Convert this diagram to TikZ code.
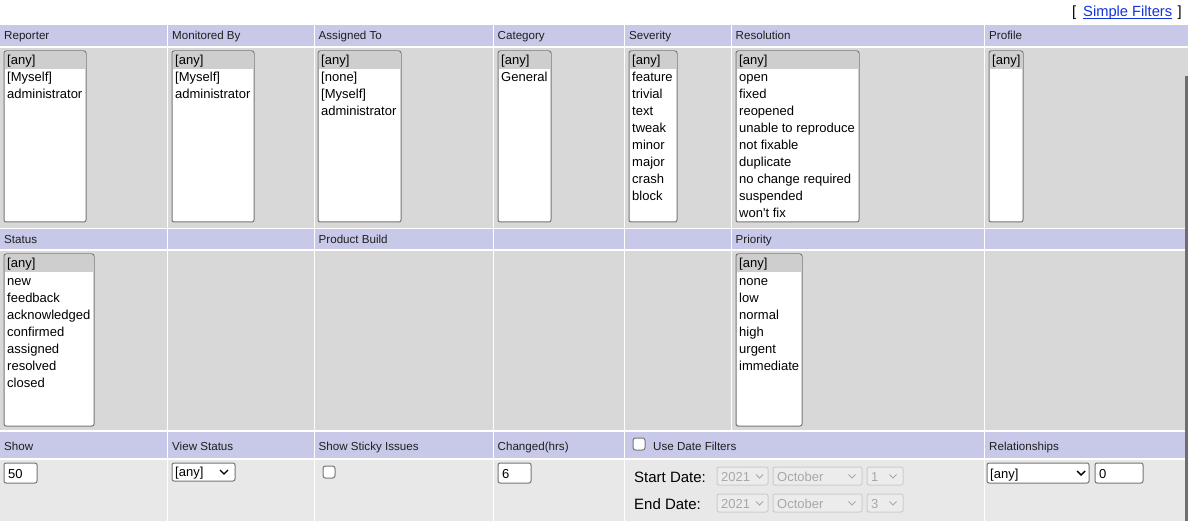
\documentclass[tikz,border=0pt]{standalone}
\usepackage{fontspec}
\setmainfont{Liberation Sans}
\definecolor{hdr}{RGB}{200,200,232}
\definecolor{bodyc}{RGB}{216,216,216}
\definecolor{bodyl}{RGB}{232,232,232}
\definecolor{bordc}{RGB}{118,118,118}
\definecolor{selc}{RGB}{206,206,206}
\definecolor{dis}{RGB}{168,168,168}
\definecolor{disb}{RGB}{205,205,205}
\definecolor{disf}{RGB}{236,236,236}
\definecolor{linkc}{RGB}{20,50,220}
\definecolor{sbar}{RGB}{110,110,110}
\tikzset{
  hdtxt/.style={anchor=base west,inner sep=0pt,font=\fontsize{11.6}{13}\selectfont,text=black!88},
  itm/.style={anchor=base west,inner sep=0pt,font=\fontsize{13}{15}\selectfont},
  ditm/.style={itm,text=dis},
  bigtxt/.style={anchor=base west,inner sep=0pt,font=\fontsize{15}{17}\selectfont},
  lnktxt/.style={anchor=base west,inner sep=0pt,font=\fontsize{14.7}{17}\selectfont},
  lbx/.style={draw=bordc,fill=white,line width=1pt,rounded corners=2pt},
  dsbx/.style={draw=disb,fill=disf,line width=1pt,rounded corners=2pt},
  chev/.style={draw=black,line width=1.4pt},
  dchev/.style={draw=dis,line width=0.9pt},
  chk/.style={draw=bordc,fill=white,line width=1pt,rounded corners=2.5pt}
}
% #1 name, #2 x1, #3 y1, #4 x2, #5 y2, #6 items
\newcommand\lstbox[6]{%
  \draw[lbx] (#2,#3) rectangle (#4,#5);
  \fill[selc] ({#2+1},{#3+1}) rectangle ({#4-1},{#3+18});
  \foreach \t [count=\i] in {#6}{\node[itm] (#1-\i) at ({#2+3},{#3+14+17*\i-17}) {\t};}
}
% #1 name, #2 x1, #3 y1, #4 x2, #5 y2, #6 text, #7 chevron centre x
\newcommand\selbox[7]{%
  \draw[lbx] (#2,#3) rectangle (#4,#5);
  \node[itm] (#1) at ({#2+3},{#5-4.5}) {#6};
  \draw[chev] ({#7-4},{(#3+#5)/2-2}) -- ({#7},{(#3+#5)/2+2}) -- ({#7+4},{(#3+#5)/2-2});
}
\newcommand\disbox[7]{%
  \draw[dsbx] (#2,#3) rectangle (#4,#5);
  \node[ditm] (#1) at ({#2+4},{#5-4}) {#6};
  \draw[dchev] ({#7-3.5},{(#3+#5)/2-1.5}) -- ({#7},{(#3+#5)/2+2}) -- ({#7+3.5},{(#3+#5)/2-1.5});
}
\newcommand\inbox[6]{%
  \draw[lbx] (#2,#3) rectangle (#4,#5);
  \node[itm] (#1) at ({#2+4},{#5-5}) {#6};
}
\begin{document}
\begin{tikzpicture}[x=1pt,y=-1pt]
\useasboundingbox (0,0) rectangle (1188,521);
\fill[white] (0,0) rectangle (1188,521);

% top link
\node[lnktxt] (lb) at (1072,17) {[};
\node[lnktxt,text=linkc] (lnk) at (1083,17) {Simple Filters};
\node[lnktxt] (rb) at (1177.5,17) {]};
\draw[linkc,line width=1pt] ([yshift=-2pt]lnk.base west) -- ([yshift=-2pt]lnk.base east);

% rows 1 and 2
\foreach \a/\b in {0/166.5,168/313.5,315/492.5,494/623.5,625/730.5,732/983.5,985/1188}{
  \fill[hdr] (\a,25) rectangle (\b,46.5);
  \fill[bodyc] (\a,48) rectangle (\b,228);
  \fill[hdr] (\a,229.5) rectangle (\b,249.5);
  \fill[bodyc] (\a,251) rectangle (\b,430);
}
% row 3
\foreach \a/\b in {0/166.5,168/313.5,315/492.5,494/623.5,625/983.5,985/1188}{
  \fill[hdr] (\a,431.5) rectangle (\b,458);
  \fill[bodyl] (\a,459.5) rectangle (\b,521);
}

% header labels row 1
\node[hdtxt] (hrep) at (4,40) {Reporter};
\node[hdtxt] (hmon) at (172,40) {Monitored By};
\node[hdtxt] (hasg) at (318.5,40) {Assigned To};
\node[hdtxt] (hcat) at (497.5,40) {Category};
\node[hdtxt] (hsev) at (629,40) {Severity};
\node[hdtxt] (hres) at (735.5,40) {Resolution};
\node[hdtxt] (hpro) at (989,40) {Profile};
% header labels row 2
\node[hdtxt] (hsta) at (4,243.5) {Status};
\node[hdtxt] (hpb) at (318.5,243.5) {Product Build};
\node[hdtxt] (hpri) at (735.5,243.5) {Priority};
% header labels row 3
\node[hdtxt] (hshow) at (4,450) {Show};
\node[hdtxt] (hvs) at (172,450) {View Status};
\node[hdtxt] (hsti) at (318.5,450) {Show Sticky Issues};
\node[hdtxt] (hchg) at (497.5,450) {Changed(hrs)};
\draw[chk] (633,438) rectangle (645,450);
\node[hdtxt] (hdate) at (653,450) {Use Date Filters};
\node[hdtxt] (hrel) at (989,450) {Relationships};

% list boxes row 1
\lstbox{rep}{4}{51}{86}{222}{{[any]},{[Myself]},administrator}
\lstbox{mon}{172}{51}{254}{222}{{[any]},{[Myself]},administrator}
\lstbox{asg}{318}{51}{401}{222}{{[any]},{[none]},{[Myself]},administrator}
\lstbox{cat}{498}{51}{551}{222}{{[any]},General}
\lstbox{sev}{629}{51}{677}{222}{{[any]},feature,trivial,text,tweak,minor,major,crash,block}
\lstbox{res}{736}{51}{859}{222}{{[any]},open,fixed,reopened,unable to reproduce,not fixable,duplicate,no change required,suspended,won\textquotesingle t fix}
\lstbox{pro}{989}{51}{1023}{222}{{[any]}}
% list boxes row 2
\lstbox{sta}{4}{254}{94}{426}{{[any]},new,feedback,acknowledged,confirmed,assigned,resolved,closed}
\lstbox{pri}{736}{254}{802}{426}{{[any]},none,low,normal,high,urgent,immediate}

% row 3 controls
\inbox{show}{4}{463}{37}{483}{50}
\selbox{vs}{172}{463}{235}{481}{[any]}{224}
\draw[chk] (323,466) rectangle (335,478);
\inbox{chg}{498}{463}{531}{483}{6}
\node[bigtxt] (sd) at (634,482) {Start Date:};
\node[bigtxt] (ed) at (634,509) {End Date:};
\disbox{sy}{717}{467}{768}{485}{2021}{759.5}
\disbox{sm}{773}{467}{862}{485}{October}{852}
\disbox{sdd}{867}{467}{903}{485}{1}{893}
\disbox{ey}{717}{494}{768}{512}{2021}{759.5}
\disbox{em}{773}{494}{862}{512}{October}{852}
\disbox{edd}{867}{494}{903}{512}{3}{893}
\selbox{rel}{987}{463}{1089}{483}{[any]}{1081}
\inbox{reln}{1095}{463}{1143}{483}{0}

% scrollbar edge
\fill[sbar] (1185,76) rectangle (1188,521);
\end{tikzpicture}
\end{document}
